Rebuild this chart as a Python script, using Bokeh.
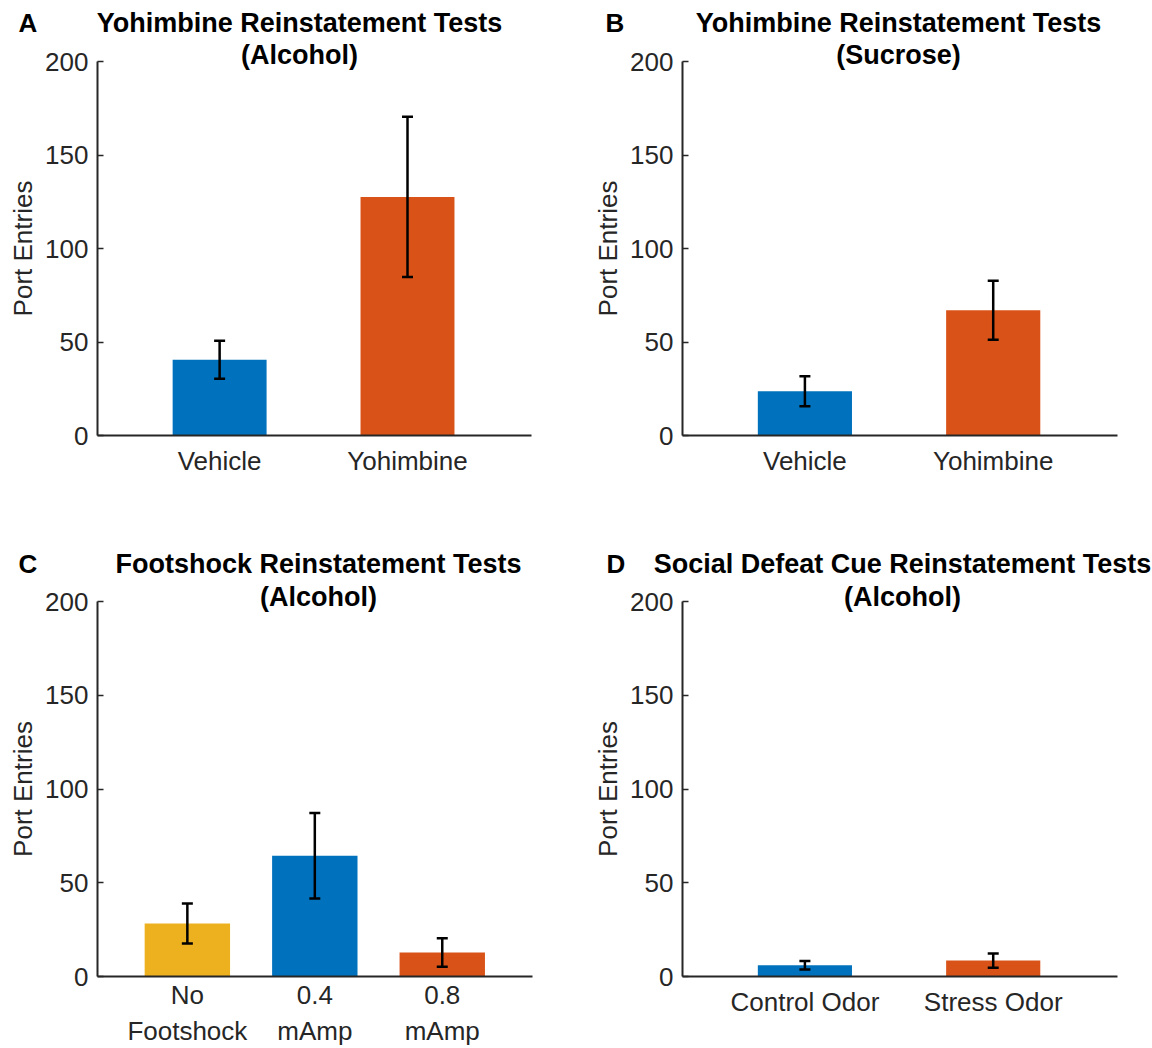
from bokeh.plotting import figure
from bokeh.models import Range1d, FixedTicker, Label, Whisker, ColumnDataSource, TeeHead
from bokeh.layouts import column, row
from bokeh.embed import file_html
from bokeh.resources import INLINE

# ---------------- data ----------------
a_categories = ["Vehicle", "Yohimbine"]
a_means = [40.5, 127.6]
a_sem = [10.2, 42.9]

b_categories = ["Vehicle", "Yohimbine"]
b_means = [23.7, 67.0]
b_sem = [8.0, 15.8]

c_categories = ["No\nFootshock", "0.4\nmAmp", "0.8\nmAmp"]
c_means = [28.3, 64.4, 12.8]
c_sem = [10.7, 22.8, 7.6]

d_categories = ["Control Odor", "Stress Odor"]
d_means = [6.0, 8.5]
d_sem = [2.3, 3.8]

y_ticks = [0, 50, 100, 150, 200]
y_label = "Port Entries"

BLUE = "#0072BD"
ORANGE = "#D95319"
YELLOW = "#EDB120"
AX = "#262626"
FONT = "Liberation Sans"


def panel(letter, title1, title2, cats, means, sems, colors, xr, bar_w,
          width, height, bl, br, bt, bb, title_dx, letter_dx, dy1, dy2, side2, x_standoff):
    xs = list(range(1, len(cats) + 1))
    p = figure(width=width, height=height, output_backend="svg", toolbar_location=None,
               x_range=Range1d(*xr), y_range=Range1d(0, 200),
               min_border_left=bl, min_border_right=br, min_border_top=bt, min_border_bottom=bb)
    p.outline_line_color = None
    p.xgrid.visible = False
    p.ygrid.visible = False

    src = ColumnDataSource(dict(x=xs, top=means, color=colors,
                                upper=[m + s for m, s in zip(means, sems)],
                                lower=[m - s for m, s in zip(means, sems)]))
    p.vbar(x="x", top="top", bottom=0, width=bar_w, fill_color="color", line_color=None, source=src)
    w = Whisker(base="x", upper="upper", lower="lower", source=src, level="overlay",
                line_color="black", line_width=2.5,
                upper_head=TeeHead(size=11, line_color="black", line_width=2.5),
                lower_head=TeeHead(size=11, line_color="black", line_width=2.5))
    p.add_layout(w)

    for ax in (p.xaxis[0], p.yaxis[0]):
        ax.axis_line_color = AX
        ax.axis_line_width = 2
        ax.major_tick_line_color = AX
        ax.major_tick_line_width = 1.5
        ax.minor_tick_line_color = None
        ax.major_tick_out = 0
        ax.major_label_text_font = FONT
        ax.major_label_text_font_size = "26px"
        ax.major_label_text_color = AX

    p.xaxis.ticker = FixedTicker(ticks=xs)
    p.xaxis.major_label_overrides = {x: c for x, c in zip(xs, cats)}
    p.xaxis.major_tick_in = 0
    p.xaxis.major_label_standoff = x_standoff

    p.yaxis.ticker = FixedTicker(ticks=y_ticks)
    p.yaxis.major_tick_in = 6
    p.yaxis.major_label_standoff = 9
    p.yaxis.axis_label = y_label
    p.yaxis.axis_label_text_font = FONT
    p.yaxis.axis_label_text_font_size = "26px"
    p.yaxis.axis_label_text_font_style = "normal"
    p.yaxis.axis_label_text_color = AX
    p.yaxis.axis_label_standoff = 4

    common = dict(text_font=FONT, text_font_size="27px", text_font_style="bold",
                  text_color="black", text_baseline="alphabetic")
    # annotations placed in side panels are not clipped to the frame
    p.add_layout(Label(x=xr[0], y=200, x_offset=title_dx, y_offset=dy1, text=title1,
                       text_align="center", **common), "above")
    p.add_layout(Label(x=xr[0], y=200, x_offset=title_dx, y_offset=dy2, text=title2,
                       text_align="center", **common), side2)
    p.add_layout(Label(x=xr[0], y=200, x_offset=letter_dx, y_offset=dy1, text=letter,
                       text_align="left", **dict(common, text_font_size="26px")), "right")
    return p


pA = panel("A", "Yohimbine Reinstatement Tests", "(Alcohol)", a_categories, a_means, a_sem,
           [BLUE, ORANGE], (0.35, 2.66), 0.5, 576, 518, 97, 45, 61, 83, 202, -79, 39, 7, "below", 10)
pB = panel("B", "Yohimbine Reinstatement Tests", "(Sucrose)", b_categories, b_means, b_sem,
           [BLUE, ORANGE], (0.35, 2.66), 0.5, 576, 518, 106, 35, 61, 83, 216, -77, 39, 7, "below", 10)
pC = panel("C", "Footshock Reinstatement Tests", "(Alcohol)", c_categories, c_means, c_sem,
           [YELLOW, BLUE, ORANGE], (0.295, 3.708), 0.67, 576, 530, 97, 44, 83, 72, 221, -79, 38, 5, "above", 3)
pD = panel("D", "Social Defeat Cue Reinstatement Tests", "(Alcohol)", d_categories, d_means, d_sem,
           [BLUE, ORANGE], (0.35, 2.66), 0.5, 576, 530, 106, 35, 83, 72, 220, -76, 38, 5, "above", 10)

layout = column(row(pA, pB), row(pC, pD))
open("out.html", "w").write(file_html(layout, INLINE))
